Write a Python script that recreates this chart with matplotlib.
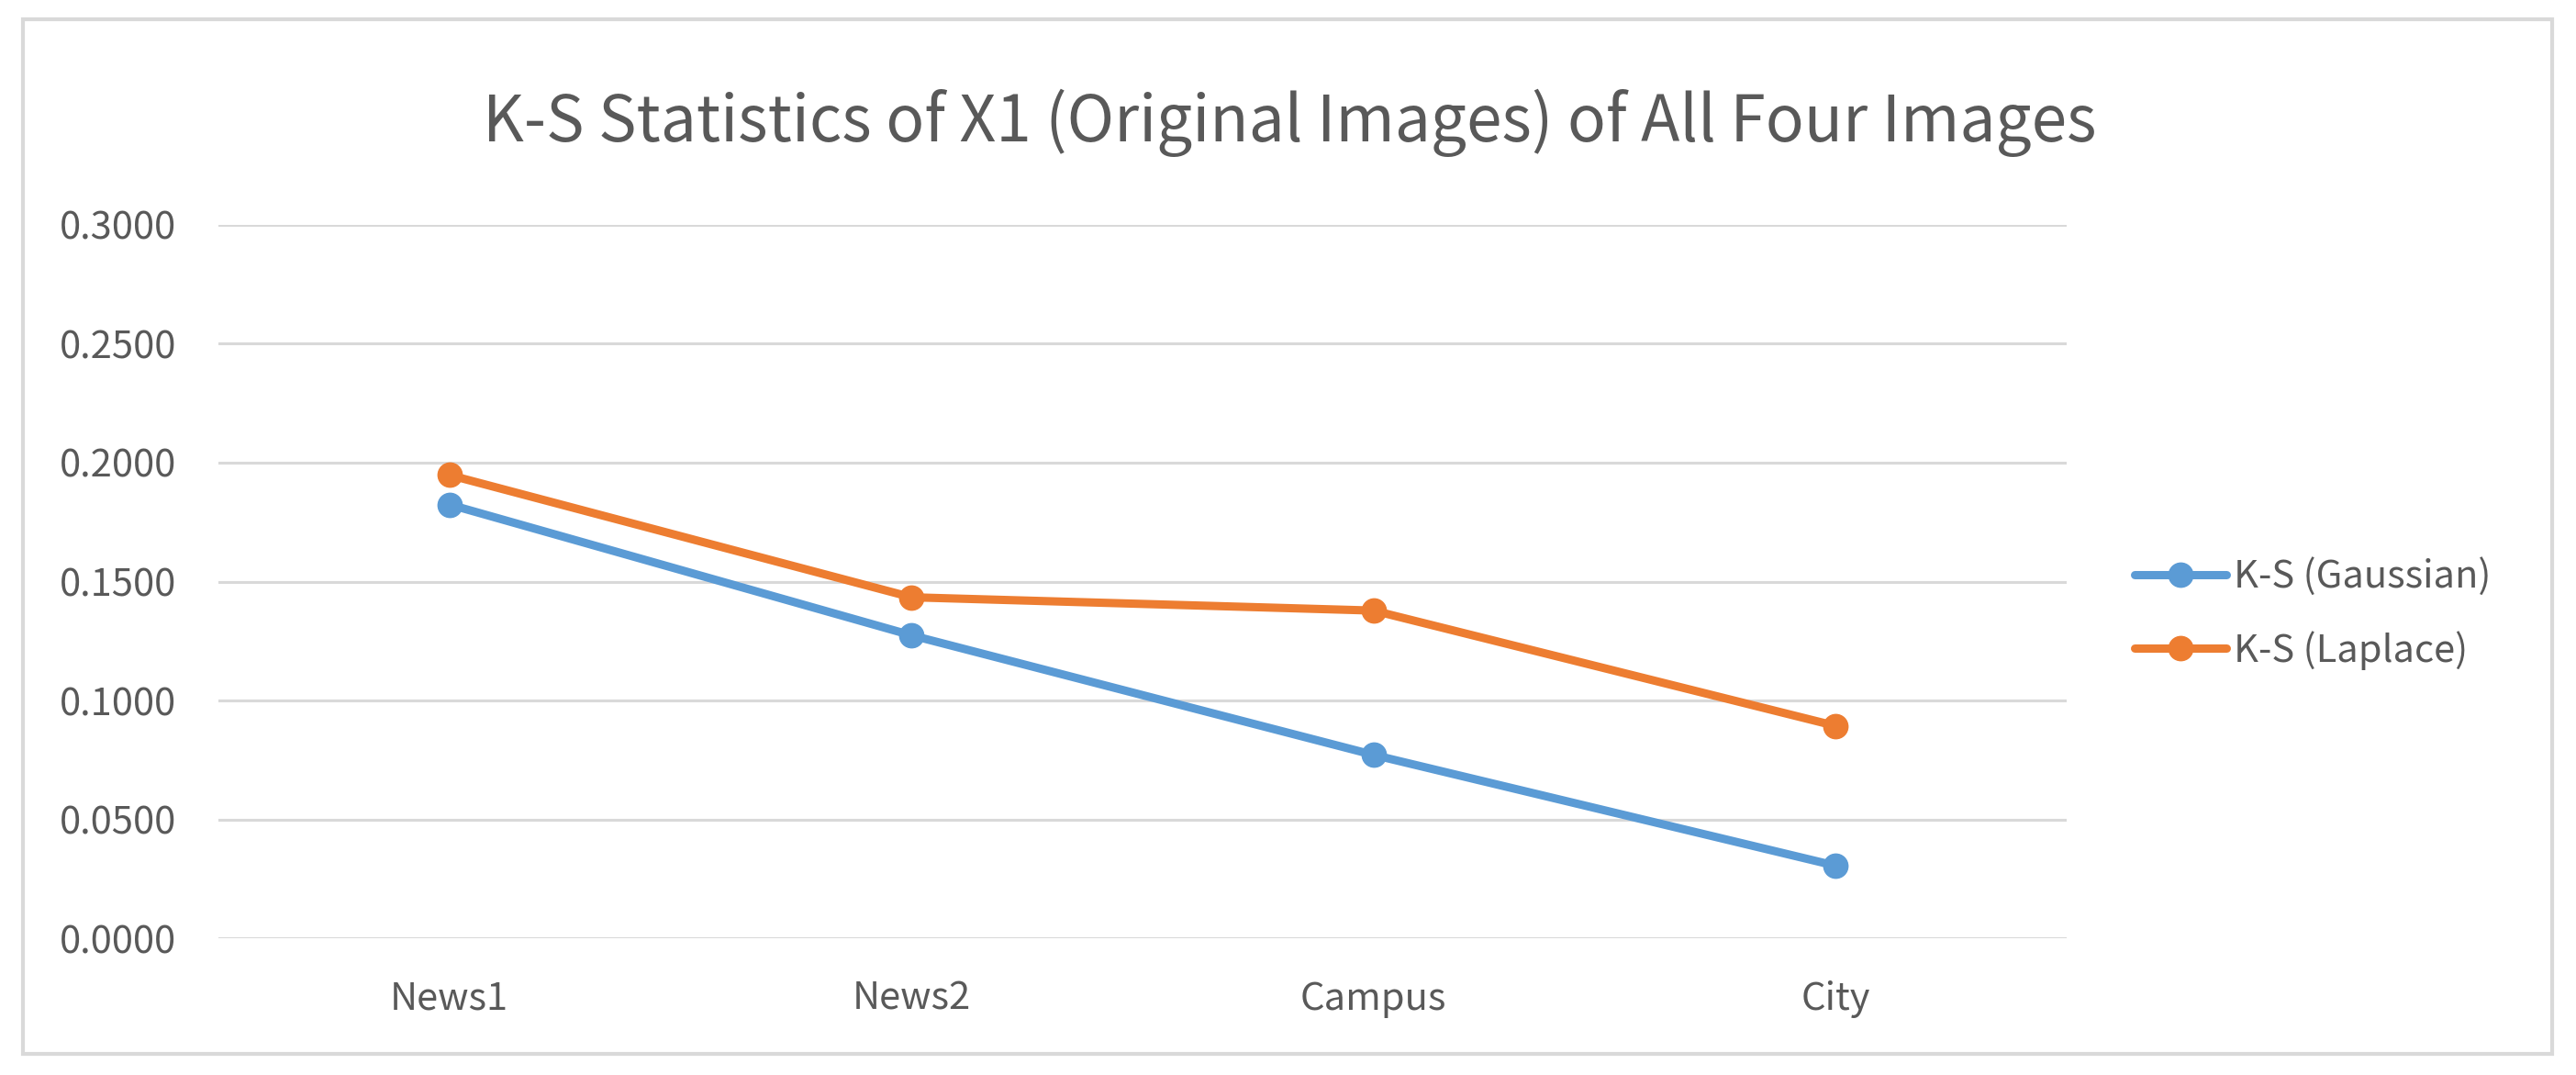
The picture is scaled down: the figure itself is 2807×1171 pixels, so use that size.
import matplotlib.pyplot as plt
from matplotlib.patches import Rectangle

plt.rcParams['font.family'] = ['Noto Sans CJK KR', 'DejaVu Sans']

# data
categories = ['News1', 'News2', 'Campus', 'City']
ks_gaussian = [0.1824, 0.1274, 0.0771, 0.0305]
ks_laplace = [0.1948, 0.1434, 0.1378, 0.0893]
yticks = [0.0, 0.05, 0.10, 0.15, 0.20, 0.25, 0.30]

blue = '#5B9BD5'
orange = '#ED7D31'
grey = '#595959'
grid = '#D9D9D9'

fig = plt.figure(figsize=(28.07, 11.71), dpi=100)
ax = fig.add_axes([0.0848, 0.1272, 0.7175, 0.6636])

x = list(range(len(categories)))
ax.plot(x, ks_gaussian, color=blue, lw=6.5, marker='o', markersize=19,
        label='K-S (Gaussian)', solid_capstyle='round')
ax.plot(x, ks_laplace, color=orange, lw=6.5, marker='o', markersize=19,
        label='K-S (Laplace)', solid_capstyle='round')

ax.set_xlim(-0.5, len(categories) - 0.5)
ax.set_ylim(0, 0.3)
ax.set_yticks(yticks)
ax.set_yticklabels([f'{v:.4f}' for v in yticks])
ax.set_xticks(x)
ax.set_xticklabels(categories)
ax.tick_params(axis='both', length=0, labelsize=30, colors=grey, pad=33)
ax.yaxis.grid(True, color=grid, lw=2.2)
ax.set_axisbelow(True)
for s in ax.spines.values():
    s.set_visible(False)

fig.text(0.5005, 1 - 134 / 1171, 'K-S Statistics of X1 (Original Images) of All Four Images',
         ha='center', va='center', fontsize=50, color=grey)

fig.legend(loc='center left', bbox_to_anchor=(2326 / 2807, 1 - 668.5 / 1171),
           frameon=False, fontsize=30, labelcolor=grey, handlelength=2.4,
           handletextpad=0.2, borderpad=0, borderaxespad=0, labelspacing=0.9)

fig.patches.append(Rectangle((0.0089, 0.0196), 0.982, 0.9624, transform=fig.transFigure,
                             fill=False, edgecolor=grid, lw=3))

fig.savefig('out.png', dpi=100, facecolor='white')
